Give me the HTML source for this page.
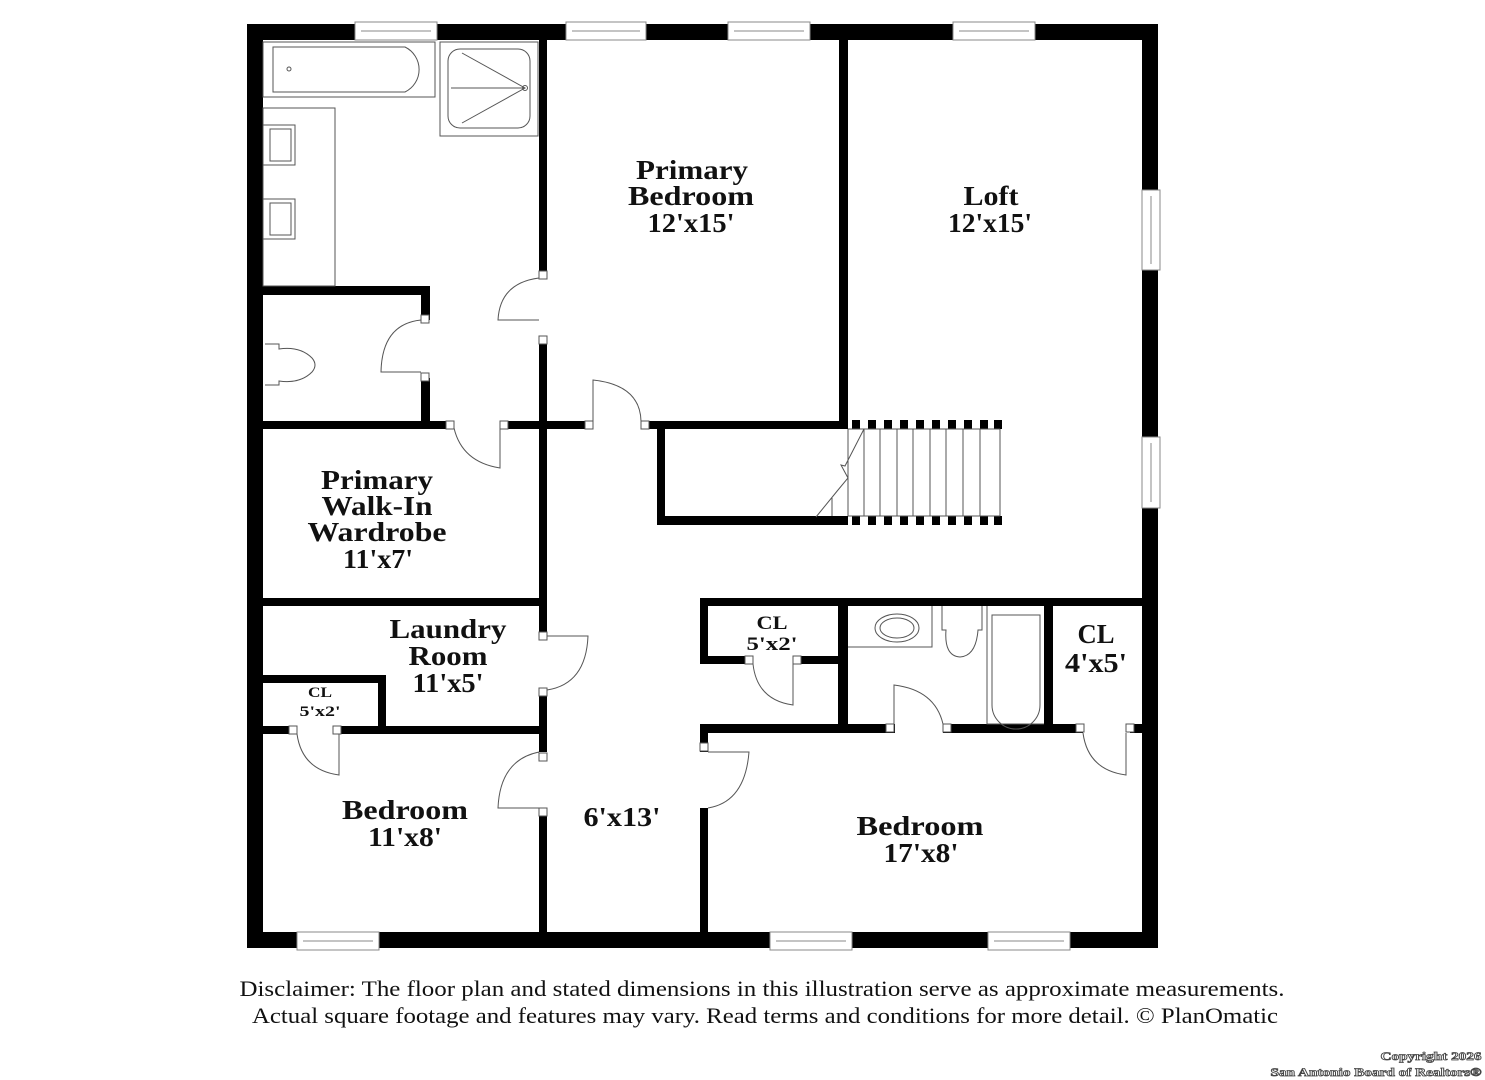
<!DOCTYPE html>
<html><head><meta charset="utf-8"><style>
html,body{margin:0;padding:0;background:#fff;}
svg{display:block}
text{font-family:"Liberation Serif",serif;font-weight:bold;fill:#111;text-anchor:middle}
.d{font-weight:normal;font-size:22px}
</style></head><body>
<svg width="1485" height="1080" viewBox="0 0 1485 1080" xmlns="http://www.w3.org/2000/svg">
<g fill="#000">
<rect x="247" y="24" width="911" height="16"/>
<rect x="247" y="932" width="911" height="16"/>
<rect x="247" y="24" width="16" height="924"/>
<rect x="1142" y="24" width="16" height="924"/>
<rect x="539" y="40" width="8" height="238"/>
<rect x="539" y="337" width="8" height="299"/>
<rect x="539" y="692" width="8" height="60"/>
<rect x="539" y="808" width="8" height="124"/>
<rect x="839" y="40" width="9" height="389"/>
<rect x="263" y="286" width="167" height="9"/>
<rect x="421" y="286" width="9" height="34"/>
<rect x="421" y="378" width="9" height="51"/>
<rect x="263" y="421" width="191" height="8"/>
<rect x="500" y="421" width="93" height="8"/>
<rect x="641" y="421" width="207" height="8"/>
<rect x="657" y="421" width="8" height="104"/>
<rect x="657" y="516" width="191" height="9"/>
<rect x="263" y="598" width="284" height="8"/>
<rect x="263" y="675" width="123" height="8"/>
<rect x="378" y="675" width="8" height="57"/>
<rect x="263" y="726" width="34" height="8"/>
<rect x="333" y="726" width="214" height="8"/>
<rect x="700" y="598" width="442" height="8"/>
<rect x="700" y="598" width="8" height="66"/>
<rect x="700" y="656" width="53" height="8"/>
<rect x="800" y="656" width="40" height="8"/>
<rect x="838" y="598" width="10" height="134"/>
<rect x="1044" y="606" width="9" height="126"/>
<rect x="700" y="724" width="195" height="9"/>
<rect x="943" y="724" width="140" height="9"/>
<rect x="1130" y="724" width="12" height="9"/>
<rect x="700" y="724" width="8" height="28"/>
<rect x="700" y="808" width="8" height="124"/>
<g id="b">
<rect x="852" y="420" width="8" height="9"/><rect x="868" y="420" width="8" height="9"/><rect x="884" y="420" width="8" height="9"/><rect x="900" y="420" width="8" height="9"/><rect x="916" y="420" width="8" height="9"/><rect x="932" y="420" width="8" height="9"/><rect x="948" y="420" width="8" height="9"/><rect x="964" y="420" width="8" height="9"/><rect x="980" y="420" width="8" height="9"/><rect x="994" y="420" width="8" height="9"/>
</g>
<use href="#b" y="96"/>
</g>
<g fill="#fff" stroke="#888" stroke-width="1">
<rect x="355" y="22" width="82" height="18"/><rect x="566" y="22" width="80" height="18"/><rect x="728" y="22" width="82" height="18"/><rect x="953" y="22" width="82" height="18"/>
<rect x="297" y="932" width="82" height="18"/><rect x="770" y="932" width="82" height="18"/><rect x="988" y="932" width="82" height="18"/>
<rect x="1142" y="190" width="18" height="80"/><rect x="1142" y="437" width="18" height="71"/>
</g>
<g stroke="#888" stroke-width="1" fill="none">
<line x1="361" y1="31" x2="431" y2="31"/><line x1="572" y1="31" x2="640" y2="31"/><line x1="734" y1="31" x2="804" y2="31"/><line x1="959" y1="31" x2="1029" y2="31"/>
<line x1="303" y1="941" x2="373" y2="941"/><line x1="776" y1="941" x2="846" y2="941"/><line x1="994" y1="941" x2="1064" y2="941"/>
<line x1="1151" y1="196" x2="1151" y2="264"/><line x1="1151" y1="443" x2="1151" y2="502"/>
</g>
<g stroke="#555" stroke-width="1" fill="none">
<rect x="263" y="42" width="172" height="55"/>
<path d="M273 47 H405 A25 25 0 0 1 405 92 H273 Z"/>
<rect x="440" y="42" width="98" height="94"/>
<rect x="448" y="49" width="82" height="79" rx="12"/>
<path d="M462 53 L525 88 L462 123 M451 88 H525"/>
<circle cx="525" cy="88" r="2.5"/><circle cx="289" cy="69" r="2"/>
<rect x="263" y="108" width="72" height="178"/>
<rect x="263" y="125" width="32" height="40"/><rect x="270" y="129" width="21" height="32"/>
<rect x="263" y="199" width="32" height="40"/><rect x="270" y="203" width="21" height="32"/>
<path d="M265 344 H279 V349 Q300 346 312 358 Q318 365 312 372 Q300 384 279 381 V385 H265"/>
<path d="M539 278 Q500 283 498 320 H539"/>
<path d="M421 320 Q382 324 381 372 H421"/>
<path d="M454 428 Q462 462 500 468 V429"/>
<path d="M593 421 V380 Q640 385 641 421"/>
<path d="M547 636 H588 Q586 684 547 690"/>
<path d="M297 734 Q302 770 339 775 V734"/>
<path d="M539 752 Q500 760 498 808 H539"/>
<path d="M708 752 H749 Q745 802 708 808"/>
<path d="M753 664 Q757 700 793 705 V664"/>
<path d="M894 724 V685 Q935 690 943 724"/>
<path d="M1083 733 Q1088 770 1126 775 V733"/>
<path d="M848 429 H1000 M848 516 H1000 M1000 429 V516"/>
<path d="M864 429 V516 M880 429 V516 M897 429 V516 M913 429 V516 M930 429 V516 M946 429 V516 M963 429 V516 M980 429 V516 M848 429 V516"/>
<path d="M864 429 L845 466 L841 465 L848 478 L838 490 L816 517 M832 498 V516"/>
<path d="M848 647 H932 V606"/>
<ellipse cx="897" cy="628" rx="22" ry="14"/><ellipse cx="897" cy="628" rx="17" ry="10"/>
<path d="M942 606 V630 H946 Q944 656 960 657 Q976 656 978 630 H982 V606"/>
<path d="M987 606 V724 H1044 M992 615 H1040 V705 A24 24 0 0 1 992 705 Z"/>
</g>
<g fill="#fff" stroke="#555" stroke-width="1">
<rect x="539" y="271" width="8" height="8"/><rect x="539" y="336" width="8" height="8"/>
<rect x="421" y="315" width="8" height="8"/><rect x="421" y="373" width="8" height="8"/>
<rect x="446" y="421" width="8" height="8"/><rect x="500" y="421" width="8" height="8"/>
<rect x="585" y="421" width="8" height="8"/><rect x="641" y="421" width="8" height="8"/>
<rect x="539" y="632" width="8" height="8"/><rect x="539" y="688" width="8" height="8"/>
<rect x="289" y="726" width="8" height="8"/><rect x="333" y="726" width="8" height="8"/>
<rect x="539" y="753" width="8" height="8"/><rect x="539" y="808" width="8" height="8"/>
<rect x="700" y="743" width="8" height="8"/>
<rect x="745" y="656" width="8" height="8"/><rect x="793" y="656" width="8" height="8"/>
<rect x="886" y="724" width="8" height="8"/><rect x="943" y="724" width="8" height="8"/>
<rect x="1076" y="724" width="8" height="8"/><rect x="1126" y="724" width="8" height="8"/>
</g>
<g font-size="27" lengthAdjust="spacingAndGlyphs">
<text x="692" y="179" textLength="112" lengthAdjust="spacingAndGlyphs">Primary</text>
<text x="691" y="205" textLength="126" lengthAdjust="spacingAndGlyphs">Bedroom</text>
<text x="691" y="232" textLength="87" lengthAdjust="spacingAndGlyphs">12'x15'</text>
<text x="991" y="205" textLength="55" lengthAdjust="spacingAndGlyphs">Loft</text>
<text x="990" y="232" textLength="84" lengthAdjust="spacingAndGlyphs">12'x15'</text>
<text x="377" y="489" textLength="112" lengthAdjust="spacingAndGlyphs">Primary</text>
<text x="377" y="515" textLength="111" lengthAdjust="spacingAndGlyphs">Walk-In</text>
<text x="377" y="541" textLength="139" lengthAdjust="spacingAndGlyphs">Wardrobe</text>
<text x="378" y="568" textLength="70" lengthAdjust="spacingAndGlyphs">11'x7'</text>
<text x="448" y="638" textLength="117" lengthAdjust="spacingAndGlyphs">Laundry</text>
<text x="448" y="665" textLength="79" lengthAdjust="spacingAndGlyphs">Room</text>
<text x="448" y="692" textLength="71" lengthAdjust="spacingAndGlyphs">11'x5'</text>
<text x="405" y="819" textLength="126" lengthAdjust="spacingAndGlyphs">Bedroom</text>
<text x="405" y="846" textLength="74" lengthAdjust="spacingAndGlyphs">11'x8'</text>
<text x="622" y="826" textLength="77" lengthAdjust="spacingAndGlyphs">6'x13'</text>
<text x="920" y="835" textLength="127" lengthAdjust="spacingAndGlyphs">Bedroom</text>
<text x="921" y="862" textLength="75" lengthAdjust="spacingAndGlyphs">17'x8'</text>
<text x="1096" y="643" textLength="37" lengthAdjust="spacingAndGlyphs">CL</text>
<text x="1096" y="672" textLength="62" lengthAdjust="spacingAndGlyphs">4'x5'</text>
</g>
<g font-size="19"><text x="772" y="629" textLength="31" lengthAdjust="spacingAndGlyphs">CL</text><text x="772" y="650" textLength="51" lengthAdjust="spacingAndGlyphs">5'x2'</text></g>
<g font-size="15"><text x="320" y="697" textLength="24" lengthAdjust="spacingAndGlyphs">CL</text><text x="320" y="716" textLength="41" lengthAdjust="spacingAndGlyphs">5'x2'</text></g>
<text class="d" x="762" y="996" textLength="1045" lengthAdjust="spacingAndGlyphs">Disclaimer: The floor plan and stated dimensions in this illustration serve as approximate measurements.</text>
<text class="d" x="765" y="1023" textLength="1026" lengthAdjust="spacingAndGlyphs">Actual square footage and features may vary. Read terms and conditions for more detail. © PlanOmatic</text>
<g style="font-family:'DejaVu Sans',sans-serif;font-size:12px" stroke="#444" stroke-width="0.8">
<text x="1431" y="1060" textLength="101" lengthAdjust="spacingAndGlyphs" style="fill:#fff">Copyright 2026</text>
<text x="1376" y="1076" textLength="211" lengthAdjust="spacingAndGlyphs" style="fill:#fff">San Antonio Board of Realtors®</text>
</g>
</svg>
</body></html>
